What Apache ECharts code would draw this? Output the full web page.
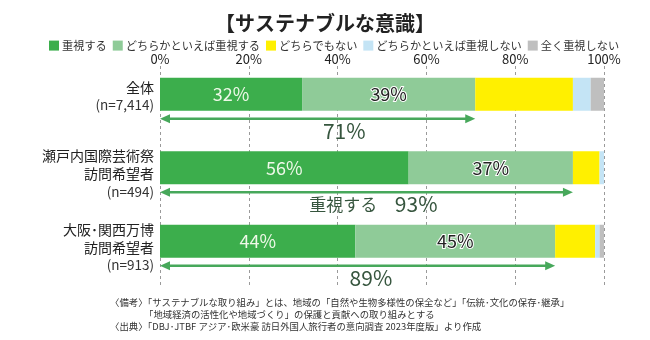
<!DOCTYPE html>
<html><head><meta charset="utf-8">
<script src="https://cdn.jsdelivr.net/npm/echarts@6/dist/echarts.min.js"></script>
<style>html,body{margin:0;padding:0;background:#fff}#c{width:650px;height:340px}</style>
</head><body><div id="c"></div>
<script>
// ---- data ----
const titleText = '【サステナブルな意識】';
const categories = ['全体', '瀬戸内国際芸術祭\n訪問希望者', '大阪･関西万博\n訪問希望者'];
const sampleSizes = ['(n=7,414)', '(n=494)', '(n=913)'];
const seriesNames = ['重視する', 'どちらかといえば重視する', 'どちらでもない', 'どちらかといえば重視しない', '全く重視しない'];
const important = [32, 56, 44];
const somewhatImportant = [39, 37, 45];
const neutral = [22, 6, 9];
const somewhatNot = [4, 1, 1];
const notAtAll = [3, 0, 1];
const tickLabels = ['0%', '20%', '40%', '60%', '80%', '100%'];
const totalPrefix = ['', '重視する', ''];
const footnotes = [
  '〈備考〉「サステナブルな取り組み」とは、地域の「自然や生物多様性の保全など」「伝統･文化の保存･継承」',
  '「地域経済の活性化や地域づくり」の保護と貢献への取り組みとする',
  '〈出典〉「DBJ･JTBF アジア･欧米豪 訪日外国人旅行者の意向調査 2023年度版」より作成'
];

// ---- layout / style ----
const FONT = '"Noto Sans CJK JP", "Noto Sans", sans-serif';
const colors = ['#3cae4c', '#8fcb98', '#fff000', '#c4e4f5', '#bfbfbf'];
const totalLabelAt = [41.5, 57.7, 47.5]; // axis position (%) of the total label centre
const ARROW_DY = 24.5, LABEL_DY = 36.5;
const arrowColor = '#47a85b';
const totalColor = '#36553e';

const values = [important, somewhatImportant, neutral, somewhatNot, notAtAll];
const totals = important.map((v, i) => v + somewhatImportant[i]);

const chart = echarts.init(document.getElementById('c'), null, {renderer: 'canvas'});

const barSeries = seriesNames.map((name, k) => ({
  name, type: 'bar', stack: 'all', xAxisIndex: 0, yAxisIndex: 0,
  barWidth: 33, itemStyle: {color: colors[k]},
  data: values[k],
  label: {
    show: k < 2, position: 'inside', formatter: '{c}%',
    fontFamily: FONT, fontSize: 18,
    color: k === 0 ? '#eef8e8' : '#222',
    textBorderColor: k === 0 ? 'transparent' : '#fff', textBorderWidth: k === 0 ? 0 : 2
  },
  emphasis: {disabled: true}, animation: false
}));

const arrowSeries = {
  type: 'custom', xAxisIndex: 0, yAxisIndex: 0, clip: false, animation: false, silent: true,
  encode: {x: 0, y: 1},
  data: totals.map((t, i) => [t, i]),
  renderItem(params, api) {
    const i = api.value(1), total = api.value(0);
    const s = api.coord([0, i]);
    const e = api.coord([total, i]);
    const y = s[1] + ARROW_DY;
    const hl = 10, hw = 4.5;
    const ch = [
      {type: 'line', shape: {x1: s[0] + hl - 1, y1: y, x2: e[0] - hl + 1, y2: y}, style: {stroke: arrowColor, lineWidth: 2.5}},
      {type: 'polygon', shape: {points: [[s[0], y], [s[0] + hl, y - hw], [s[0] + hl, y + hw]]}, style: {fill: arrowColor}},
      {type: 'polygon', shape: {points: [[e[0], y], [e[0] - hl, y - hw], [e[0] - hl, y + hw]]}, style: {fill: arrowColor}}
    ];
    const lp = api.coord([totalLabelAt[i], i]);
    const ly = s[1] + LABEL_DY;
    ch.push({type: 'text', style: {x: lp[0], y: ly, text: total + '%', align: 'center', verticalAlign: 'middle',
      fontFamily: FONT, fontSize: 21, fill: totalColor}});
    if (totalPrefix[i]) {
      ch.push({type: 'text', style: {x: lp[0] - 39, y: ly, text: totalPrefix[i], align: 'right', verticalAlign: 'middle',
        fontFamily: FONT, fontSize: 17, fill: totalColor}});
    }
    return {type: 'group', children: ch};
  }
};

const option = {
  backgroundColor: '#fff',
  animation: false,
  textStyle: {fontFamily: FONT},
  title: {text: titleText, left: 'center', top: 8,
    textStyle: {fontFamily: FONT, fontSize: 20, fontWeight: 'bold', color: '#222'}},
  legend: {
    data: seriesNames, left: 44, top: 35, icon: 'rect', itemWidth: 10, itemHeight: 10, itemGap: 6,
    itemStyle: {borderWidth: 0},
    textStyle: {fontFamily: FONT, fontSize: 11.2, color: '#333', padding: [0, 0, 0, -2]},
    selectedMode: false
  },
  grid: [
    {left: 160, right: 46, top: 57.5, bottom: 62},
    {left: 160, right: 46, top: 66, bottom: 55}
  ],
  xAxis: [
    {type: 'value', gridIndex: 0, min: 0, max: 100, show: false},
    {type: 'value', gridIndex: 1, min: 0, max: 100, interval: 20, position: 'top',
      axisLine: {show: false}, axisTick: {show: false},
      axisLabel: {margin: 0, fontFamily: FONT, fontSize: 13, color: '#222',
        formatter: (v) => tickLabels[Math.round(v / 20)]},
      splitLine: {show: true, lineStyle: {color: '#9a9a9a', type: [3, 3], width: 1}}}
  ],
  yAxis: [
    {type: 'category', gridIndex: 0, inverse: true,
      data: categories.map((c, i) => ({value: c, textStyle: {padding: [c.indexOf('\n') >= 0 ? 12 : 4, 0, 0, 0]}})),
      axisLine: {show: false}, axisTick: {show: false},
      axisLabel: {margin: 6, align: 'right', verticalAlign: 'middle',
        formatter: (v, i) => v.split('\n').map(l => '{t|' + l + '}').join('\n') + '\n{n|' + sampleSizes[i] + '}',
        rich: {
          t: {fontFamily: FONT, fontSize: 14, color: '#222', lineHeight: 18, align: 'right'},
          n: {fontFamily: FONT, fontSize: 13.5, color: '#333', lineHeight: 18, align: 'right'}
        }}},
    {type: 'category', gridIndex: 1, show: false, data: categories}
  ],
  graphic: footnotes.map((t, i) => ({
    type: 'text', left: i === 1 ? 144 : 110, top: [298, 310, 322][i], silent: true,
    style: {text: t, fontFamily: FONT, fontSize: 9.4, fill: '#333'}
  })),
  series: [...barSeries, arrowSeries]
};
chart.setOption(option);
</script></body></html>
